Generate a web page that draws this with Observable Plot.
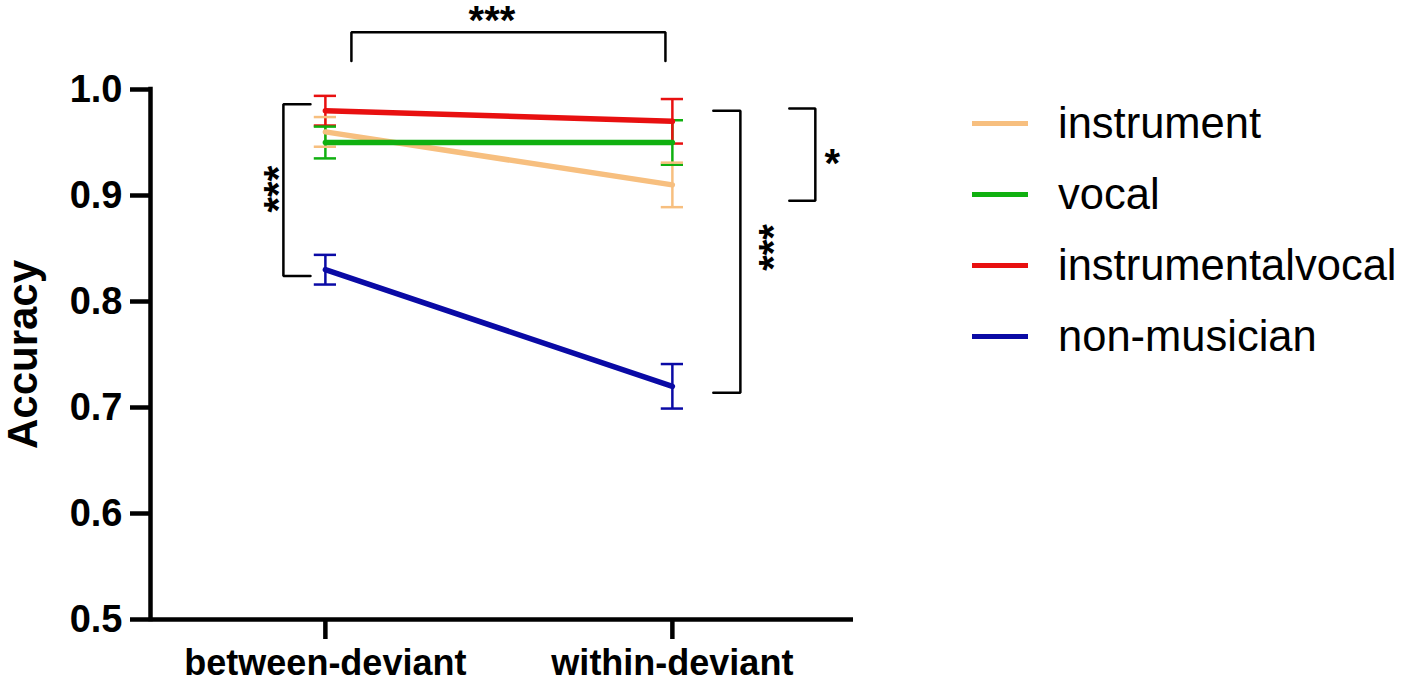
<!DOCTYPE html>
<html><head><meta charset="utf-8">
<script src="https://cdn.jsdelivr.net/npm/d3@7"></script>
<script src="https://cdn.jsdelivr.net/npm/@observablehq/plot@0.6"></script>
<style>
body{margin:0;background:#fff;}
#wrap{position:relative;width:1406px;height:684px;font-family:"Liberation Sans",Arial,sans-serif;}
#legend{position:absolute;left:972px;top:88px;}
.row{display:flex;align-items:center;height:71px;}
.sw{width:56px;height:5px;margin-right:30px;}
.lab{font-size:43.5px;color:#000;line-height:1;}
</style></head><body><div id="wrap"><div id="legend"></div></div>
<script>
// ---- data ----
const conditions = ["between-deviant", "within-deviant"];
const conditionX = [0, 1];
const groups = ["instrument", "vocal", "instrumentalvocal", "non-musician"];
const groupColors = ["#F7BF7F", "#10B010", "#E81010", "#0A0AA5"];
const meanInstrument = [0.96, 0.91];
const meanVocal = [0.95, 0.95];
const meanInstrVocal = [0.98, 0.97];
const meanNonMusician = [0.83, 0.72];
const errInstrument = [0.014, 0.021];
const errVocal = [0.015, 0.021];
const errInstrVocal = [0.014, 0.021];
const errNonMusician = [0.014, 0.021];
const yTicks = [0.5, 0.6, 0.7, 0.8, 0.9, 1.0];
const yDomain = [0.5, 1.0];
const xDomain = [-0.504, 1.522];
const capHalf = 0.032;

// significance annotations (data units)
const bracketLeftX = [-0.043, -0.121, -0.121, -0.043];
const bracketLeftY = [0.986, 0.986, 0.824, 0.824];
const bracketTopX = [0.075, 0.075, 0.98, 0.98];
const bracketTopY = [1.027, 1.054, 1.054, 1.027];
const bracketRightX = [1.118, 1.196, 1.196, 1.118];
const bracketRightY = [0.98, 0.98, 0.714, 0.714];
const bracketSmallX = [1.337, 1.412, 1.412, 1.337];
const bracketSmallY = [0.982, 0.982, 0.895, 0.895];
const starLabels = ["***", "***", "***", "*"];
const starX = [-0.1326, 0.48, 1.292, 1.461];
const starY = [0.906, 1.064, 0.851, 0.930];
const starRotate = [-90, 0, -90, 0];

// ---- build tables ----
const means = [meanInstrument, meanVocal, meanInstrVocal, meanNonMusician];
const errs = [errInstrument, errVocal, errInstrVocal, errNonMusician];
const rows = [];
groups.forEach((g, gi) => conditionX.forEach((x, ci) => rows.push({
  group: g, x, y: means[gi][ci], lo: means[gi][ci] - errs[gi][ci], hi: means[gi][ci] + errs[gi][ci]
})));
const brackets = [];
[[bracketLeftX, bracketLeftY], [bracketTopX, bracketTopY], [bracketRightX, bracketRightY], [bracketSmallX, bracketSmallY]]
  .forEach(([bx, by], bi) => bx.forEach((x, i) => brackets.push({b: bi, x, y: by[i]})));
const stars = starLabels.map((t, i) => ({t, x: starX[i], y: starY[i], r: starRotate[i]}));

const chart = Plot.plot({
  width: 1406, height: 684,
  marginLeft: 150, marginRight: 553, marginTop: 89, marginBottom: 65,
  style: {fontFamily: '"Liberation Sans", Arial, sans-serif', background: "#fff", overflow: "visible"},
  x: {domain: xDomain},
  y: {domain: yDomain},
  color: {domain: groups, range: groupColors},
  marks: [
    Plot.axisY({ticks: yTicks, tickFormat: d3.format(".1f"), tickSize: 20, tickPadding: 8,
      fontSize: 38, fontWeight: "bold", strokeWidth: 4.5, label: null, color: "#000"}),
    Plot.axisX({ticks: conditionX, tickFormat: i => conditions[i], tickSize: 20, tickPadding: 10,
      fontSize: 36, fontWeight: "bold", strokeWidth: 4.5, label: null, color: "#000"}),
    Plot.ruleY([yDomain[0]], {strokeWidth: 4.5, stroke: "#000"}),
    Plot.ruleX([{x: xDomain[0], y1: yDomain[0], y2: yDomain[1]}], {x: "x", y1: "y1", y2: "y2", strokeWidth: 4.5, stroke: "#000", strokeLinecap: "square"}),
    Plot.text(["Accuracy"], {frameAnchor: "left", textAnchor: "middle", text: d => d, rotate: -90, dx: -127, fontSize: 42, fontWeight: "bold", fill: "#000"}),
    Plot.ruleX(rows, {x: "x", y1: "lo", y2: "hi", stroke: "group", strokeWidth: 2.5}),
    Plot.ruleY(rows, {y: "lo", x1: d => d.x - capHalf, x2: d => d.x + capHalf, stroke: "group", strokeWidth: 2.5}),
    Plot.ruleY(rows, {y: "hi", x1: d => d.x - capHalf, x2: d => d.x + capHalf, stroke: "group", strokeWidth: 2.5}),
    Plot.line(rows, {x: "x", y: "y", z: "group", stroke: "group", strokeWidth: 5.5}),
    Plot.line(brackets, {x: "x", y: "y", z: "b", stroke: "#000", strokeWidth: 2.5, strokeLinejoin: "miter"}),
    Plot.text(stars, {x: "x", y: "y", text: "t", rotate: "r", fontSize: 40, fontWeight: "bold", fill: "#000"})
  ]
});
document.getElementById("wrap").prepend(chart);
chart.style.position = "absolute"; chart.style.left = "0"; chart.style.top = "0";

const legend = document.getElementById("legend");
groups.forEach((g, i) => {
  const row = document.createElement("div"); row.className = "row";
  const sw = document.createElement("div"); sw.className = "sw"; sw.style.background = groupColors[i];
  const lab = document.createElement("div"); lab.className = "lab"; lab.textContent = g;
  row.append(sw, lab); legend.append(row);
});
</script></body></html>
